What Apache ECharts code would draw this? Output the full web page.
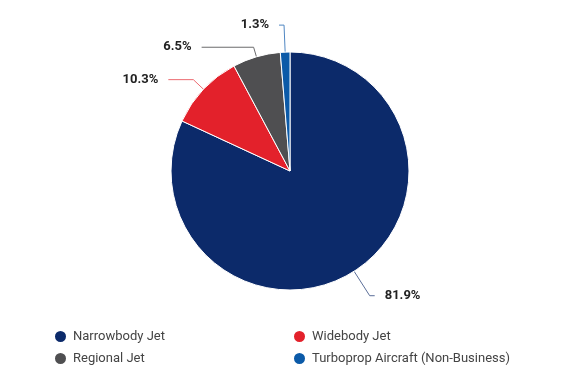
<!DOCTYPE html>
<html><head><meta charset="utf-8">
<script src="https://cdn.jsdelivr.net/npm/echarts@6/dist/echarts.min.js"></script>
<style>html,body{margin:0;padding:0;background:#fff}#c{width:580px;height:386px}</style>
</head><body><div id="c"></div>
<script>
const categories = ['Narrowbody Jet', 'Widebody Jet', 'Regional Jet', 'Turboprop Aircraft (Non-Business)'];
const values = [81.9, 10.3, 6.5, 1.3];
const colors = ['#0c2a6a', '#e3212b', '#4f4f51', '#0b5aa8'];
const lineColors = ['#5b6e98', '#ec6a70', '#6a6a6c', '#4f86c2'];
const lineLen = [[29, 5], [14, 25], [10, 52], [27, 5]];

const chart = echarts.init(document.getElementById('c'));
const data = categories.map((n, i) => ({
  name: n, value: values[i],
  itemStyle: { color: colors[i] },
  labelLine: { length: lineLen[i][0], length2: lineLen[i][1], lineStyle: { color: lineColors[i], width: 1 } }
}));
const legendText = { fontFamily: 'Roboto', fontSize: 13, color: '#444', padding: [0, 0, 0, 1] };
const legendBase = { orient: 'vertical', top: 329, icon: 'circle', itemWidth: 13, itemHeight: 13, itemGap: 7, padding: 0, textStyle: legendText };
chart.setOption({
  animation: false,
  legend: [
    Object.assign({ data: [categories[0], categories[2]], left: 53 }, legendBase),
    Object.assign({ data: [categories[1], categories[3]], left: 292 }, legendBase)
  ],
  series: [{
    type: 'pie', center: [290, 171], radius: [0, 119], startAngle: 90, clockwise: true,
    avoidLabelOverlap: false,
    itemStyle: { borderColor: '#fff', borderWidth: 1 },
    label: { show: true, formatter: p => p.value.toFixed(1) + '%', fontFamily: 'Roboto', fontSize: 13, fontWeight: 'bold', color: '#222', distanceToLabelLine: 10 },
    labelLine: { show: true, smooth: false },
    data: data
  }]
});
</script></body></html>
